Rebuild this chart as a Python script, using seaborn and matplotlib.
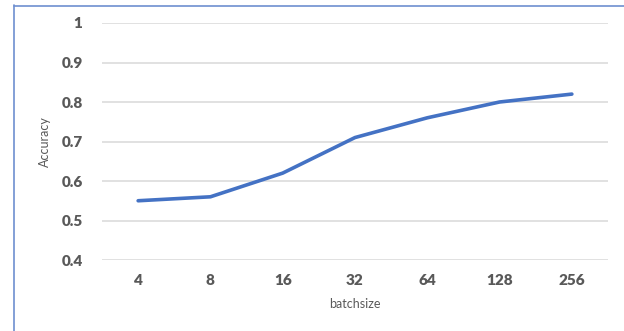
import matplotlib
matplotlib.use("Agg")
import matplotlib.pyplot as plt
from matplotlib.lines import Line2D
import seaborn as sns
import pandas as pd

batch_sizes = ["4", "8", "16", "32", "64", "128", "256"]
accuracy = [0.55, 0.56, 0.62, 0.71, 0.76, 0.80, 0.82]
y_ticks = [0.4, 0.5, 0.6, 0.7, 0.8, 0.9, 1.0]
y_tick_labels = ["0.4", "0.5", "0.6", "0.7", "0.8", "0.9", "1"]

sns.set_theme(style="white")
plt.rcParams["font.family"] = ["Lato", "DejaVu Sans"]

df = pd.DataFrame({"batchsize": batch_sizes, "Accuracy": accuracy})

fig = plt.figure(figsize=(6.24, 3.31), dpi=100)
ax = fig.add_axes([102 / 624, 1 - 260 / 331, 506 / 624, 237 / 331])

sns.lineplot(data=df, x="batchsize", y="Accuracy", sort=False, ax=ax,
             color="#4472C4", linewidth=2.6, solid_capstyle="round")

ax.set_xlim(-0.5, len(batch_sizes) - 0.5)
ax.set_ylim(0.4, 1.0)
ax.set_yticks(y_ticks)
ax.set_yticklabels(y_tick_labels)
ax.yaxis.grid(True, color="#D9D9D9", linewidth=1.1)
ax.xaxis.grid(False)
ax.set_axisbelow(True)
for s in ax.spines.values():
    s.set_visible(False)

ax.tick_params(axis="y", length=0, pad=14, labelsize=11, labelcolor="#595959")
ax.tick_params(axis="x", length=0, pad=10, labelsize=11, labelcolor="#595959")
for lab in ax.get_xticklabels() + ax.get_yticklabels():
    lab.set_fontweight("heavy")

ax.set_xlabel("batchsize", fontsize=9, color="#595959", labelpad=8)
ax.set_ylabel("Accuracy", fontsize=9, color="#595959")
ax.yaxis.set_label_coords(-0.10, 0.5)

# outer frame (left and top edges)
fig.add_artist(Line2D([13.5 / 624, 13.5 / 624], [0, 1 - 5 / 331],
                      transform=fig.transFigure, color="#6E8FD0", linewidth=1.2))
fig.add_artist(Line2D([13.5 / 624, 1], [1 - 5.5 / 331, 1 - 5.5 / 331],
                      transform=fig.transFigure, color="#6E8FD0", linewidth=1.2))

fig.savefig("out.png", dpi=100)
